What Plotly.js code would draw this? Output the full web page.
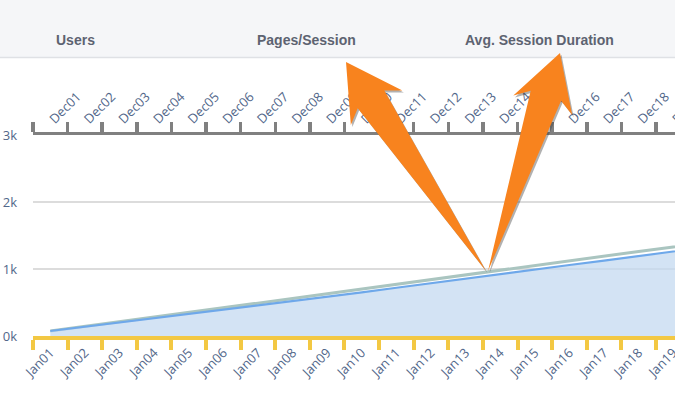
<!DOCTYPE html>
<html>
<head>
<meta charset="utf-8">
<script src="https://cdn.plot.ly/plotly-3.0.1.min.js"></script>
<style>html,body{margin:0;padding:0;background:#fff;}#chart{width:675px;height:394px;}</style>
</head>
<body>
<div id="chart"></div>
<script>
// ---- data ----
const janLabels = ['Jan01','Jan02','Jan03','Jan04','Jan05','Jan06','Jan07','Jan08','Jan09','Jan10','Jan11','Jan12','Jan13','Jan14','Jan15','Jan16','Jan17','Jan18','Jan19','Jan20'];
const decLabels = ['Dec01','Dec02','Dec03','Dec04','Dec05','Dec06','Dec07','Dec08','Dec09','Dec10','Dec11','Dec12','Dec13','Dec14','Dec15','Dec16','Dec17','Dec18','Dec19','Dec20'];
const currentUsers = [75,138,200,262,325,388,450,515,585,650,720,790,860,925,990,1060,1125,1195,1260,1330];
const previousUsers = [75,143,212,280,350,420,490,560,632,703,775,845,915,985,1055,1125,1195,1262,1330,1398];
const yTickVals = [0,1000,2000,3000];
const yTickText = ['0k','1k','2k','3k'];
const headerLabels = ['Users','Pages/Session','Avg. Session Duration'];

// ---- layout geometry (pixels) ----
const W = 675, H = 394;
const M = {l:33, r:0, t:135, b:58};
const PW = W - M.l - M.r, PH = H - M.t - M.b;
const px = x => (x - M.l) / PW;
const py = y => (H - M.b - y) / PH;

function arrowPath(bx, by, tx, ty, dx, dy) {
  const vx = tx - bx, vy = ty - by, L = Math.hypot(vx, vy);
  const ux = vx / L, uy = vy / L, nx = -uy, ny = ux;
  const pts = [
    [bx, by],
    [tx - 45*ux - 16*nx, ty - 45*uy - 16*ny],
    [tx - 55*ux - 31*nx, ty - 55*uy - 31*ny],
    [tx, ty],
    [tx - 55*ux + 31*nx, ty - 55*uy + 31*ny],
    [tx - 45*ux + 16*nx, ty - 45*uy + 16*ny]
  ];
  return 'M ' + pts.map(p => px(p[0] + dx) + ',' + py(p[1] + dy)).join(' L ') + ' Z';
}

const arrows = [[486,271,346,62],[488,271,560,53]];
const shapes = [
  {type:'rect', xref:'paper', yref:'paper', x0:px(0), x1:px(W), y0:py(57), y1:py(0), fillcolor:'#f5f6f8', line:{width:0}, layer:'below'},
  {type:'line', xref:'paper', yref:'paper', x0:px(0), x1:px(W), y0:py(57.5), y1:py(57.5), line:{color:'#dfe1e5', width:1.5}, layer:'below'}
];
arrows.forEach(a => {
  shapes.push({type:'path', xref:'paper', yref:'paper', path:arrowPath(a[0],a[1],a[2],a[3],1.5,2), fillcolor:'rgba(60,60,60,0.4)', line:{width:0}, layer:'above'});
  shapes.push({type:'path', xref:'paper', yref:'paper', path:arrowPath(a[0],a[1],a[2],a[3],0,0), fillcolor:'#f8831e', line:{width:0}, layer:'above'});
});

const headerX = [75, 306, 539];
const annotations = headerLabels.map((t,i) => ({
  text:t, xref:'paper', yref:'paper', x:px(headerX[i]), y:py(40), xanchor:'center', yanchor:'middle', showarrow:false,
  font:{family:'Liberation Sans Narrow, Arial Narrow, sans-serif', size:14, weight:700, color:'#5d6371'}
}));

const tickFont = {family:'Open Sans, sans-serif', size:13, color:'#52678a'};

const data = [
  {x: janLabels, y: previousUsers, type:'scatter', mode:'lines', line:{color:'#aac5c0', width:3}, hoverinfo:'skip', showlegend:false},
  {x: janLabels, y: currentUsers, type:'scatter', mode:'lines', fill:'tozeroy', fillcolor:'rgba(196,218,240,0.75)', line:{color:'#6ea8ea', width:2.2}, hoverinfo:'skip', showlegend:false},
  {x: decLabels, y: currentUsers, xaxis:'x2', type:'scatter', mode:'lines', line:{width:0}, opacity:0, hoverinfo:'skip', showlegend:false}
];

const layout = {
  width:W, height:H, margin:M,
  paper_bgcolor:'#ffffff', plot_bgcolor:'#ffffff',
  showlegend:false,
  xaxis:{type:'category', categoryarray:janLabels, range:[-0.5,18.05], showline:true, linecolor:'#f3c843', linewidth:4,
    ticks:'outside', ticklen:10, tickwidth:4, tickcolor:'#f3c843', tickson:'boundaries', tickangle:-45,
    tickfont:tickFont, showgrid:false, zeroline:false, fixedrange:true},
  xaxis2:{type:'category', categoryarray:decLabels, range:[-0.5,18.05], overlaying:'x', side:'top', anchor:'y',
    showline:true, linecolor:'#808080', linewidth:3.5, ticks:'outside', ticklen:10, tickwidth:3.5, tickcolor:'#808080',
    tickson:'boundaries', tickangle:-45, tickfont:tickFont, showgrid:false, zeroline:false, fixedrange:true},
  yaxis:{range:[0,3000], tickmode:'array', tickvals:yTickVals, ticktext:yTickText, showgrid:true, gridcolor:'#dcdcdc', gridwidth:1.5,
    zeroline:false, showline:false, ticks:'', ticklabelstandoff:15, tickfont:{family:'Open Sans, sans-serif', size:13, color:'#52678a'}, fixedrange:true},
  shapes:shapes,
  annotations:annotations
};

Plotly.newPlot('chart', data, layout, {displayModeBar:false, staticPlot:true});
</script>
</body>
</html>
